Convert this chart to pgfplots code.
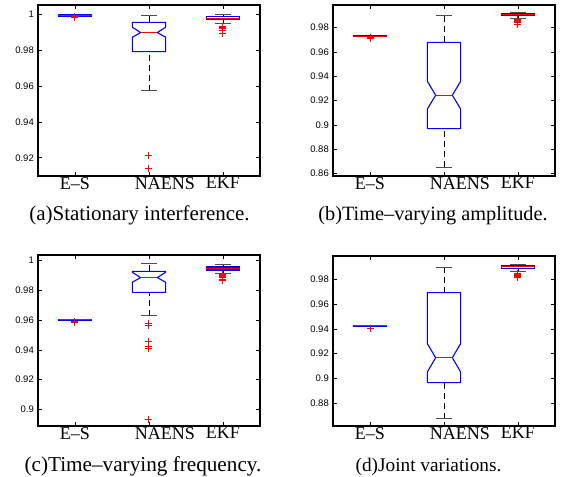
\documentclass[border=0pt]{standalone}
\usepackage{fontspec}
\setmainfont{Liberation Serif}
\newfontfamily\helv{Liberation Sans}
\usepackage{pgfplots}
\pgfplotsset{compat=1.18}

\pgfplotsset{
  panel/.style={
    scale only axis, width=222pt, height=171pt,
    xmin=0.5, xmax=3.5, xtick={1,2,3},
    xticklabels={E--S,\hspace*{32pt}NAENS,EKF},
    tick pos=both, xticklabel pos=lower, yticklabel pos=left,
    tick align=inside, major tick length=4pt,
    tick style={black, line width=0.6pt},
    axis line style={line width=1.2pt},
    xticklabel style={font=\fontsize{18}{18}\selectfont, inner sep=1pt},
    yticklabel style={font=\helv\fontsize{9.5}{10}\selectfont, inner sep=4pt},
    /pgf/number format/assume math mode=true,
    /pgf/number format/fixed,
    /pgf/number format/precision=2,
  },
  whisk/.style={black, line width=0.9pt, dash pattern=on 6pt off 4pt},
  cap/.style={black!70, line width=1pt},
  boxl/.style={blue, line width=1.1pt},
  medl/.style={red, line width=1pt},
  outl/.style={only marks, red, mark=+, mark size=3.5pt, mark options={line width=1pt}},
}

% box: position, lower whisker, lower quartile, notch low, median,
%      notch high, upper quartile, upper whisker, notch depth
\newcommand{\bx}[9]{%
  \pgfmathsetmacro\xl{#1-0.225}\pgfmathsetmacro\xr{#1+0.225}%
  \pgfmathsetmacro\cl{#1-0.1125}\pgfmathsetmacro\cr{#1+0.1125}%
  \pgfmathsetmacro\il{#1-0.225+#9}\pgfmathsetmacro\ir{#1+0.225-#9}%
  \addplot[whisk] coordinates {(#1,#2) (#1,#3)};
  \addplot[whisk] coordinates {(#1,#7) (#1,#8)};
  \addplot[cap] coordinates {(\cl,#2) (\cr,#2)};
  \addplot[cap] coordinates {(\cl,#8) (\cr,#8)};
  \addplot[boxl] coordinates {(\xl,#3) (\xl,#4) (\il,#5) (\xl,#6) (\xl,#7)
    (\xr,#7) (\xr,#6) (\ir,#5) (\xr,#4) (\xr,#3) (\xl,#3)};
  \addplot[medl] coordinates {(\il,#5) (\ir,#5)};
}

\begin{document}
\begin{tikzpicture}
\useasboundingbox (0pt,0pt) rectangle (566pt,-477pt);

% (a) stationary interference
\begin{axis}[panel, at={(38pt,-176pt)}, anchor=south west,
  ymin=0.9098, ymax=1.0054, ytick={0.92,0.94,0.96,0.98,1}]
\bx{1}{0.9992}{0.9992}{0.9996}{0.9996}{0.9996}{0.9999}{0.9999}{0}
\bx{2}{0.9575}{0.9793}{0.9874}{0.990}{0.993}{0.9957}{0.9998}{0.1125}
\bx{3}{0.9948}{0.9972}{0.998}{0.998}{0.998}{0.9988}{0.9999}{0}
\addplot[outl] coordinates {(1,0.9988) (1,0.9984)};
\addplot[outl] coordinates {(2,0.9215) (2,0.914)};
\addplot[outl] coordinates {(3,0.9935) (3,0.993) (3,0.9925) (3,0.992) (3,0.991) (3,0.9895)};
\end{axis}

% (b) time-varying amplitude
\begin{axis}[panel, at={(333pt,-176pt)}, anchor=south west,
  ymin=0.858, ymax=0.9986, ytick={0.86,0.88,0.9,0.92,0.94,0.96,0.98}]
\bx{1}{0.9724}{0.9724}{0.973}{0.973}{0.973}{0.9736}{0.9736}{0}
\bx{2}{0.8652}{0.897}{0.9131}{0.9244}{0.9359}{0.9679}{0.9899}{0.1125}
\bx{3}{0.9879}{0.9902}{0.991}{0.991}{0.991}{0.9918}{0.9926}{0}
\addplot[outl] coordinates {(1,0.9718) (1,0.971)};
\addplot[outl] coordinates {(3,0.9865) (3,0.986) (3,0.9855) (3,0.985) (3,0.984) (3,0.9825)};
\end{axis}

% (c) time-varying frequency
\begin{axis}[panel, at={(38pt,-426pt)}, anchor=south west,
  ymin=0.8888, ymax=1.0038, ytick={0.9,0.92,0.94,0.96,0.98,1}]
\bx{1}{0.9597}{0.9597}{0.9602}{0.9602}{0.9602}{0.9607}{0.9607}{0}
\bx{2}{0.963}{0.9787}{0.9855}{0.9886}{0.9922}{0.9928}{0.9978}{0.1125}
\bx{3}{0.9915}{0.9937}{0.9948}{0.9948}{0.9948}{0.9957}{0.9971}{0}
\addplot[outl] coordinates {(1,0.9592) (1,0.9587)};
\addplot[outl] coordinates {(2,0.9579) (2,0.9561) (2,0.9455) (2,0.9426) (2,0.9411) (2,0.8935)};
\addplot[outl] coordinates {(3,0.9908) (3,0.99) (3,0.9893) (3,0.9885) (3,0.9875) (3,0.9868)};
\end{axis}

% (d) joint variations
\begin{axis}[panel, at={(333pt,-426pt)}, anchor=south west, height=170pt,
  ymin=0.8617, ymax=0.9988, ytick={0.88,0.9,0.92,0.94,0.96,0.98}]
\bx{1}{0.9419}{0.9419}{0.9425}{0.9425}{0.9425}{0.9431}{0.9431}{0}
\bx{2}{0.8677}{0.8967}{0.9053}{0.9168}{0.9281}{0.9693}{0.9894}{0.1125}
\bx{3}{0.9859}{0.9886}{0.99}{0.99}{0.99}{0.9913}{0.9921}{0}
\addplot[outl] coordinates {(1,0.9405) (1,0.940)};
\addplot[outl] coordinates {(3,0.9848) (3,0.984) (3,0.9833) (3,0.9825) (3,0.9815)};
\end{axis}

\node[anchor=base, font=\fontsize{21}{21}\selectfont] at (139.5pt,-220pt) {(a)Stationary interference.};
\node[anchor=base, font=\fontsize{20.3}{21}\selectfont] at (433pt,-220pt) {(b)Time--varying amplitude.};
\node[anchor=base, font=\fontsize{21.2}{21}\selectfont] at (143pt,-471pt) {(c)Time--varying frequency.};
\node[anchor=base, font=\fontsize{19.3}{21}\selectfont] at (428.5pt,-471pt) {(d)Joint variations.};
\end{tikzpicture}
\end{document}
